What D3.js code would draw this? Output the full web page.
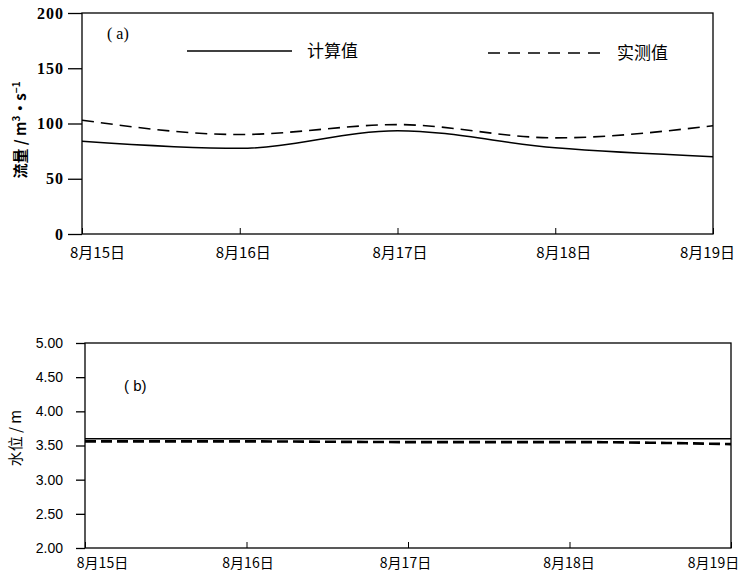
<!DOCTYPE html>
<html><head><meta charset="utf-8">
<script src="https://cdn.jsdelivr.net/npm/d3@7"></script>
<style>body{margin:0;background:#fff}svg{display:block}</style>
</head><body>
<svg id="c" width="741" height="574"></svg>
<script>
const dates = ["8月15日","8月16日","8月17日","8月18日","8月19日"];
const flowCalc = [84, 77.5, 93.5, 78, 70];
const flowObs = [103, 90, 99, 87, 98];
const flowTicks = [0, 50, 100, 150, 200];
const levelCalc = [3.60, 3.60, 3.60, 3.60, 3.60];
const levelObs = [3.56, 3.56, 3.55, 3.55, 3.52];
const levelTicks = [2.0, 2.5, 3.0, 3.5, 4.0, 4.5, 5.0];
const legendNames = ["计算值", "实测值"];

const svg = d3.select("#c");
const cjk = "'Noto Sans CJK SC', sans-serif";

// ---------- Panel (a) ----------
const xa = d3.scalePoint().domain(dates).range([82, 713]);
const ya = d3.scaleLinear().domain([0, 200]).range([234, 13]);
const ga = svg.append("g");
ga.append("rect").attr("x", 82).attr("y", 13).attr("width", 713 - 82).attr("height", 234 - 13)
  .attr("fill", "none").attr("stroke", "#000").attr("stroke-width", 1.3);
const yAxA = ga.append("g").attr("transform", "translate(82,0)")
  .call(d3.axisLeft(ya).tickValues(flowTicks).tickSize(14).tickPadding(4).tickFormat(d3.format("d")));
yAxA.attr("font-family", null);
yAxA.select(".domain").remove();
yAxA.selectAll("text").style("font-family", "'Liberation Serif', 'DejaVu Serif', serif").style("font-weight", "bold")
  .style("font-size", "16px").attr("letter-spacing", 1).attr("fill", "#000");
yAxA.selectAll("line").attr("stroke-width", 1.3);
const xAxA = ga.append("g").attr("transform", "translate(0,234)")
  .call(d3.axisBottom(xa).tickSize(-6).tickPadding(0).tickFormat(d => d));
xAxA.select(".domain").remove();
xAxA.selectAll("line").attr("stroke-width", 1);
xAxA.selectAll("text").style("font-family", cjk).style("font-size", "15px").attr("fill", "#000")
  .attr("y", 13).attr("dx", (d, i) => i === 0 ? 15 : (i === 4 ? -6 : (i === 1 ? 3 : (i === 3 ? 8 : 2))));
const lineA = d3.line().x((d, i) => xa(dates[i])).y(d => ya(d)).curve(d3.curveMonotoneX);
ga.append("path").datum(flowCalc).attr("d", lineA).attr("fill", "none").attr("stroke", "#000").attr("stroke-width", 1.5);
ga.append("path").datum(flowObs).attr("d", lineA).attr("fill", "none").attr("stroke", "#000")
  .attr("stroke-width", 1.6).attr("stroke-dasharray", "12,7");
ga.append("line").attr("x1", 187).attr("x2", 292).attr("y1", 51).attr("y2", 51).attr("stroke", "#000").attr("stroke-width", 1.5);
ga.append("text").attr("x", 307).attr("y", 57).text(legendNames[0]).style("font-family", cjk).style("font-size", "17px");
ga.append("line").attr("x1", 488).attr("x2", 602).attr("y1", 53).attr("y2", 53).attr("stroke", "#000")
  .attr("stroke-width", 1.6).attr("stroke-dasharray", "12,8");
ga.append("text").attr("x", 617).attr("y", 59).text(legendNames[1]).style("font-family", cjk).style("font-size", "17px");
ga.append("text").attr("x", 107).attr("y", 39).text("( a)").style("font-family", "'Liberation Serif', serif").style("font-size", "16px");
const ta = ga.append("text").attr("transform", "translate(26,130) rotate(-90)").attr("text-anchor", "middle")
  .style("font-family", cjk).style("font-size", "15px").style("font-weight", "bold");
ta.append("tspan").text("流量 / m");
ta.append("tspan").text("3").style("font-size", "10px").attr("dy", -6);
ta.append("tspan").text("·s").attr("dy", 6);
ta.append("tspan").text("−1").style("font-size", "10px").attr("dy", -6);

// ---------- Panel (b) ----------
const xb = d3.scalePoint().domain(dates).range([85, 731]);
const yb = d3.scaleLinear().domain([2, 5]).range([548, 343]);
const gb = svg.append("g");
gb.append("rect").attr("x", 85).attr("y", 343).attr("width", 731 - 85).attr("height", 548 - 343)
  .attr("fill", "none").attr("stroke", "#000").attr("stroke-width", 1.3);
const yAxB = gb.append("g").attr("transform", "translate(85,0)")
  .call(d3.axisLeft(yb).tickValues(levelTicks).tickSize(9).tickPadding(13).tickFormat(d3.format(".2f")));
yAxB.select(".domain").remove();
yAxB.selectAll("text").style("font-family", "'Liberation Sans', sans-serif").style("font-size", "14px").attr("fill", "#000");
yAxB.selectAll("line").attr("stroke-width", 1.3);
const xAxB = gb.append("g").attr("transform", "translate(0,548)")
  .call(d3.axisBottom(xb).tickSize(-6).tickPadding(0).tickFormat(d => d));
xAxB.select(".domain").remove();
xAxB.selectAll("line").attr("stroke-width", 1);
xAxB.selectAll("text").style("font-family", cjk).style("font-size", "14px").attr("fill", "#000")
  .attr("y", 10).attr("dx", (d, i) => i === 0 ? 17 : (i === 4 ? -18 : (i === 1 ? 1 : (i === 3 ? -1 : -3))));
const lineB = d3.line().x((d, i) => xb(dates[i])).y(d => yb(d)).curve(d3.curveMonotoneX);
gb.append("path").datum(levelCalc).attr("d", lineB).attr("fill", "none").attr("stroke", "#000").attr("stroke-width", 1.5);
gb.append("path").datum(levelObs).attr("d", lineB).attr("fill", "none").attr("stroke", "#000")
  .attr("stroke-width", 2.6).attr("stroke-dasharray", "11,5");
gb.append("text").attr("x", 124).attr("y", 391).text("( b)").style("font-family", "'Liberation Sans', sans-serif").style("font-size", "15px");
gb.append("text").attr("transform", "translate(21,438) rotate(-90)").attr("text-anchor", "middle")
  .style("font-family", cjk).style("font-size", "15px").text("水位 / m");
</script>
</body></html>
